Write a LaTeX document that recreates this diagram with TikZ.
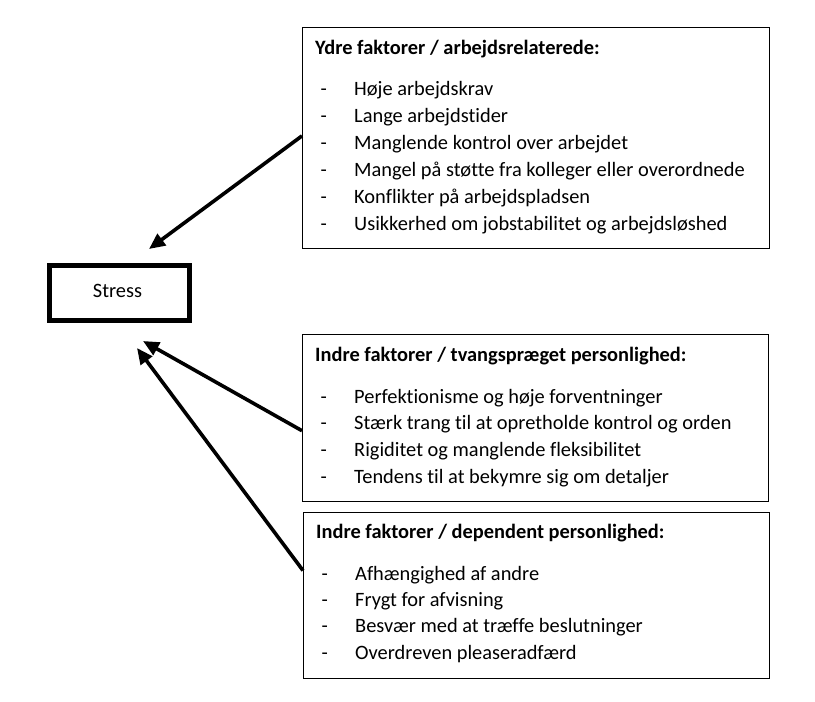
\documentclass[tikz,border=0pt]{standalone}
\usepackage{fontspec}
\setmainfont{Carlito}[RawFeature=-liga]
\usetikzlibrary{arrows.meta,calc}
\begin{document}
\begin{tikzpicture}[x=1pt,y=-1pt,
  framebox/.style={draw, line width=1.2pt, anchor=north west, inner sep=0pt},
  stressbox/.style={draw, line width=5pt, minimum width=140pt, minimum height=55pt, inner sep=0pt},
  itemtxt/.style={anchor=base west, inner sep=0pt, font=\fontsize{20.4}{24}\selectfont},
  dashtxt/.style={anchor=base west, inner sep=0pt, font=\fontsize{20.4}{24}\selectfont},
  titletxt/.style={anchor=base west, inner sep=0pt, font=\bfseries\fontsize{20.4}{24}\selectfont},
  arr/.style={line width=3.6pt, -{Triangle[length=16pt,width=14pt]}}
]
\useasboundingbox (0,0) rectangle (815,702);

% Stress
\node[stressbox] (stress) at (119.5,293) {};
\node[itemtxt, anchor=base] (stresstxt) at (117.5,297) {Stress};

% Box 1
\node[framebox, minimum width=467pt, minimum height=221pt] (b1) at (302,27) {};
\node[titletxt] (t1) at (315,54) {Ydre faktorer / arbejdsrelaterede:};
\foreach \t [count=\i] in {Høje arbejdskrav, Lange arbejdstider, Manglende kontrol over arbejdet, Mangel på støtte fra kolleger eller overordnede, Konflikter på arbejdspladsen, Usikkerhed om jobstabilitet og arbejdsløshed}{
  \node[dashtxt] (d1\i) at (320.5,{95+27*(\i-1)}) {-};
  \node[itemtxt] (i1\i) at (354,{95+27*(\i-1)}) {\t};
}

% Box 2
\node[framebox, minimum width=466pt, minimum height=167pt] (b2) at (302,334) {};
\node[titletxt] (t2) at (315,361) {Indre faktorer / tvangspræget personlighed:};
\foreach \t [count=\i] in {Perfektionisme og høje forventninger, Stærk trang til at opretholde kontrol og orden, Rigiditet og manglende fleksibilitet, Tendens til at bekymre sig om detaljer}{
  \node[dashtxt] (d2\i) at (320.5,{403+26.7*(\i-1)}) {-};
  \node[itemtxt] (i2\i) at (354,{403+26.7*(\i-1)}) {\t};
}

% Box 3
\node[framebox, minimum width=466pt, minimum height=166pt] (b3) at (303,512) {};
\node[titletxt] (t3) at (316,538) {Indre faktorer / dependent personlighed:};
\foreach \t [count=\i] in {Afhængighed af andre, Frygt for afvisning, Besvær med at træffe beslutninger, Overdreven pleaseradfærd}{
  \node[dashtxt] (d3\i) at (321.5,{580+26.4*(\i-1)}) {-};
  \node[itemtxt] (i3\i) at (355,{580+26.4*(\i-1)}) {\t};
}

% Arrow ends
\coordinate (e1) at (149,249);
\coordinate (e2) at (143,341);
\coordinate (e3) at (137,348);

\draw[arr] ($(b1.north west)!0.49!(b1.south west)$) -- (e1);
\draw[arr] ($(b2.north west)!0.575!(b2.south west)$) -- (e2);
\draw[arr] ($(b3.north west)!0.35!(b3.south west)$) -- (e3);
\end{tikzpicture}
\end{document}
